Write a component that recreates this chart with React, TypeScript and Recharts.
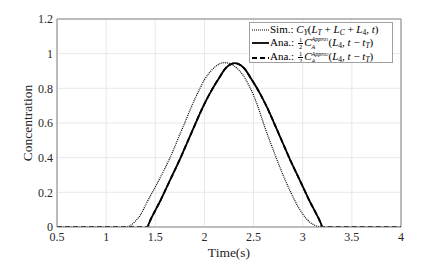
import React from 'react';
import { LineChart, Line, XAxis, YAxis, CartesianGrid, ReferenceLine, Legend } from 'recharts';

// Simulation C_Y (dotted)
const SIM_TIME = [0.5, 1.0, 1.2, 1.25, 1.3, 1.35, 1.4, 1.45, 1.5, 1.55, 1.6, 1.65, 1.7, 1.75, 1.8, 1.85, 1.9, 1.95, 2.0, 2.05, 2.1, 2.15, 2.2, 2.25, 2.3, 2.35, 2.4, 2.45, 2.5, 2.55, 2.6, 2.65, 2.7, 2.75, 2.8, 2.85, 2.9, 2.95, 3.0, 3.05, 3.1, 3.15, 3.2, 3.5, 4.0];
const SIM_VALUES = [0, 0, 0, 0.01, 0.035, 0.07, 0.125, 0.18, 0.23, 0.285, 0.34, 0.4, 0.465, 0.535, 0.6, 0.67, 0.735, 0.795, 0.85, 0.89, 0.92, 0.94, 0.948, 0.945, 0.93, 0.905, 0.87, 0.82, 0.76, 0.685, 0.6, 0.52, 0.445, 0.37, 0.3, 0.235, 0.175, 0.12, 0.075, 0.04, 0.017, 0.005, 0, 0, 0];

// Analytical approx 1 (solid)
const ANA1_TIME = [1.42, 1.45, 1.5, 1.55, 1.6, 1.65, 1.7, 1.75, 1.8, 1.85, 1.9, 1.95, 2.0, 2.05, 2.1, 2.15, 2.2, 2.25, 2.31, 2.37, 2.42, 2.47, 2.52, 2.57, 2.62, 2.67, 2.72, 2.77, 2.82, 2.87, 2.92, 2.97, 3.02, 3.07, 3.12, 3.17, 3.2];
const ANA1_VALUES = [0, 0.04, 0.095, 0.15, 0.21, 0.27, 0.33, 0.39, 0.455, 0.52, 0.585, 0.65, 0.71, 0.765, 0.815, 0.86, 0.905, 0.933, 0.945, 0.933, 0.905, 0.86, 0.815, 0.765, 0.71, 0.65, 0.585, 0.52, 0.455, 0.39, 0.33, 0.27, 0.21, 0.15, 0.095, 0.04, 0];

// Analytical approx 2 (dashed)
const ANA2_TIME = [0.5, 1.0, 1.42, 1.45, 1.5, 1.55, 1.6, 1.65, 1.7, 1.75, 1.8, 1.85, 1.9, 1.95, 2.0, 2.05, 2.1, 2.15, 2.2, 2.25, 2.31, 2.37, 2.42, 2.47, 2.52, 2.57, 2.62, 2.67, 2.72, 2.77, 2.82, 2.87, 2.92, 2.97, 3.02, 3.07, 3.12, 3.17, 3.2, 3.5, 4.0];
const ANA2_VALUES = [0, 0, 0, 0.04, 0.095, 0.15, 0.21, 0.27, 0.33, 0.39, 0.455, 0.52, 0.585, 0.65, 0.71, 0.765, 0.815, 0.86, 0.905, 0.933, 0.945, 0.933, 0.905, 0.86, 0.815, 0.765, 0.71, 0.65, 0.585, 0.52, 0.455, 0.39, 0.33, 0.27, 0.21, 0.15, 0.095, 0.04, 0, 0, 0];

const X_TICKS = [0.5, 1, 1.5, 2, 2.5, 3, 3.5, 4];
const Y_TICKS = [0, 0.2, 0.4, 0.6, 0.8, 1, 1.2];

const simData = SIM_TIME.map((t, i) => ({ t, v: SIM_VALUES[i] }));
const ana1Data = ANA1_TIME.map((t, i) => ({ t, v: ANA1_VALUES[i] }));
const ana2Data = ANA2_TIME.map((t, i) => ({ t, v: ANA2_VALUES[i] }));

const FONT = "'Liberation Serif', 'DejaVu Serif', serif";
const TXT = '#262626';
const AXIS = '#858585';

const sub: React.CSSProperties = { fontSize: 7.5, position: 'relative', top: 2, lineHeight: 0 };
const Frac = () => (
  <span style={{ display: 'inline-flex', flexDirection: 'column', alignItems: 'center', fontSize: 6.5, lineHeight: '6px', verticalAlign: 'middle', margin: '0 1px' }}>
    <span style={{ borderBottom: '0.6px solid #000', padding: '0 1px' }}>1</span>
    <span>2</span>
  </span>
);
const SupSub = ({ n }: { n: string }) => (
  <span style={{ display: 'inline-flex', flexDirection: 'column', fontSize: 6, lineHeight: '6.5px', verticalAlign: 'middle', fontStyle: 'italic' }}>
    <span>Appro<span style={{ fontSize: 4.5 }}>{n}</span></span>
    <span>A</span>
  </span>
);

const Sample = ({ dash, w }: { dash?: string; w: number }) => (
  <svg width={17} height={8} style={{ verticalAlign: 'middle', marginRight: 1 }}>
    <line x1={0} y1={4} x2={17} y2={4} stroke="#000" strokeWidth={w} strokeDasharray={dash} />
  </svg>
);

const LegendBox = () => (
  <div style={{ fontFamily: FONT, fontSize: 11, color: '#000', background: '#fff', border: '1px solid #a0a0a0', padding: '0px 2px', lineHeight: '13px', whiteSpace: 'nowrap', boxSizing: 'border-box', width: 144, height: 41, overflow: 'hidden' }}>
    <div>
      <Sample dash="1 1" w={1.2} />Sim.: <i>C</i><i style={sub}>Y</i>(<i>L</i><i style={sub}>T</i> + <i>L</i><i style={sub}>C</i> + <i>L</i><span style={sub}>4</span>, <i>t</i>)
    </div>
    <div>
      <Sample w={1.8} />Ana.: <Frac /><i>C</i><SupSub n="1" />(<i>L</i><span style={sub}>4</span>, <i>t</i> − <i>t</i><i style={sub}>T</i>)
    </div>
    <div>
      <Sample dash="5 3" w={1.8} />Ana.: <Frac /><i>C</i><SupSub n="2" />(<i>L</i><span style={sub}>4</span>, <i>t</i> − <i>t</i><i style={sub}>T</i>)
    </div>
  </div>
);

export default function App() {
  return (
    <div style={{ position: 'absolute', left: 0, top: 0, width: 443, height: 263, background: '#fff' }}>
      <LineChart width={443} height={263} margin={{ top: 19, right: 42, left: 0, bottom: 0 }}>
        <CartesianGrid stroke="#e8e8e8" strokeWidth={1} />
        <XAxis
          type="number"
          dataKey="t"
          domain={[0.5, 4]}
          ticks={X_TICKS}
          allowDataOverflow
          height={36}
          stroke={AXIS}
          tickLine={false}
          tickSize={0}
          tickMargin={5}
          tick={{ fill: TXT, fontFamily: FONT, fontSize: 12 }}
          label={(props: any) => {
            const vb = props.viewBox;
            return (
              <text x={vb.x + vb.width / 2} y={vb.y + 30} textAnchor="middle" fill={TXT} fontFamily={FONT} fontSize={13.5}>
                Time(s)
              </text>
            );
          }}
        />
        <YAxis
          type="number"
          domain={[0, 1.2]}
          ticks={Y_TICKS}
          allowDataOverflow
          width={57}
          stroke={AXIS}
          tickLine={false}
          tickSize={0}
          tickMargin={4}
          tick={{ fill: TXT, fontFamily: FONT, fontSize: 12 }}
          label={(props: any) => {
            const vb = props.viewBox;
            const cx = vb.x + 27;
            const cy = vb.y + vb.height / 2;
            return (
              <text x={cx} y={cy} transform={`rotate(-90 ${cx} ${cy})`} textAnchor="middle" dominantBaseline="central" fill={TXT} fontFamily={FONT} fontSize={13.5}>
                Concentration
              </text>
            );
          }}
        />
        <ReferenceLine y={1.2} stroke={AXIS} />
        <ReferenceLine x={4} stroke={AXIS} />
        <Line data={simData} dataKey="v" type="monotone" stroke="#000" strokeWidth={1.2} strokeDasharray="1 1" dot={false} isAnimationActive={false} />
        <Line data={ana2Data} dataKey="v" type="monotone" stroke="#000" strokeWidth={1.8} strokeDasharray="5 3" dot={false} isAnimationActive={false} />
        <Line data={ana1Data} dataKey="v" type="monotone" stroke="#000" strokeWidth={1.8} dot={false} isAnimationActive={false} />
        <Legend
          layout="vertical"
          align="center"
          verticalAlign="middle"
          content={() => <LegendBox />}
          wrapperStyle={{ position: 'absolute', left: 249, top: 22, width: 144, height: 41 }}
        />
      </LineChart>
    </div>
  );
}
